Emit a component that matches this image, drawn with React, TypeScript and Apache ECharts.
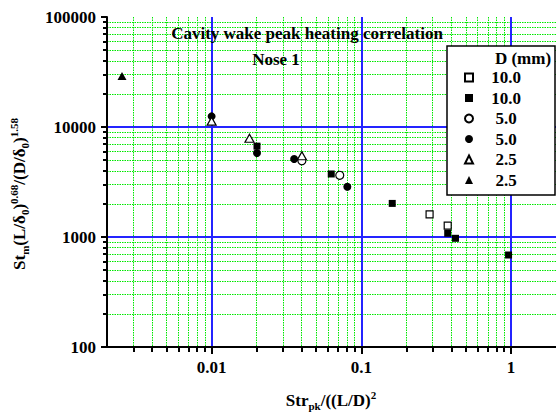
import React, { useEffect, useRef } from "react";
import * as echarts from "echarts";

// Tick values
const xMajorTicks = [0.01, 0.1, 1];
const xMinorTicks = [
  0.003, 0.004, 0.005, 0.006, 0.007, 0.008, 0.009,
  0.02, 0.03, 0.04, 0.05, 0.06, 0.07, 0.08, 0.09,
  0.2, 0.3, 0.4, 0.5, 0.6, 0.7, 0.8, 0.9,
];
const yMajorTicks = [100, 1000, 10000, 100000];
const yMinorTicks = [
  200, 300, 400, 500, 600, 700, 800, 900,
  2000, 3000, 4000, 5000, 6000, 7000, 8000, 9000,
  20000, 30000, 40000, 50000, 60000, 70000, 80000, 90000,
];

// Series (x = Str_pk/((L/D)^2, y = correlation)
const seriesNames = ["D10 open", "D10 filled", "D5 open", "D5 filled", "D2.5 open", "D2.5 filled"];
const legendLabels = ["10.0", "10.0", "5.0", "5.0", "2.5", "2.5"];
const d10Open = [[0.286, 1607], [0.378, 1268]];
const d10Filled = [[0.0201, 6700], [0.063, 3740], [0.161, 2020], [0.378, 1081], [0.426, 973], [0.964, 686]];
const d5Open = [[0.0401, 4940], [0.0718, 3640]];
const d5Filled = [[0.01, 12500], [0.0201, 5800], [0.0356, 5120], [0.0807, 2865]];
const d25Open = [[0.01, 11300], [0.0179, 7900], [0.0401, 5480]];
const d25Filled = [[0.00252, 29100]];

const FONT = "'Liberation Serif', 'Times New Roman', serif";

export default function App() {
  const ref = useRef<HTMLDivElement>(null);
  useEffect(() => {
    if (!ref.current) return;
    const chart = echarts.init(ref.current, undefined, { renderer: "svg" });
    const dataSets = [d10Open, d10Filled, d5Open, d5Filled, d25Open, d25Filled];
    const symbols = ["rect", "rect", "circle", "circle", "triangle", "triangle"];
    const sizes = [7, 7, 8, 8, [9, 8], [9, 8]];
    const filled = [false, true, false, true, false, true];
    const labelMap: Record<string, string> = {};
    seriesNames.forEach((n, i) => (labelMap[n] = legendLabels[i]));

    const fmt = (v: number) => String(Number(Number(v).toPrecision(6)));
    const baseText = { fontFamily: FONT, fontWeight: "bold", fontSize: 17, color: "#000" };
    const sub = { fontFamily: FONT, fontWeight: "bold", fontSize: 11, verticalAlign: "bottom", lineHeight: 11 };
    const sup = { fontFamily: FONT, fontWeight: "bold", fontSize: 11, verticalAlign: "top", lineHeight: 9 };
    const blue = { color: "#2424ff", width: 2, type: "solid", opacity: 1 };
    const green = { color: "#00e800", width: 1, type: [1.5, 1], opacity: 1 };

    const option: any = {
      animation: false,
      backgroundColor: "#fff",
      grid: { left: 107, top: 17, width: 450.5, height: 330 },
      xAxis: [
        {
          type: "log", logBase: 10, min: 0.002, max: 2, position: "bottom", z: 3,
          axisLine: { show: true, onZero: false, lineStyle: { color: "#000", width: 2 } },
          axisTick: { show: true, customValues: xMajorTicks, length: 7, lineStyle: { color: "#000", width: 2 } },
          axisLabel: { customValues: xMajorTicks, formatter: fmt, margin: 12, ...baseText },
          splitLine: { show: true, lineStyle: blue },
        },
        {
          type: "log", logBase: 10, min: 0.002, max: 2, position: "bottom", z: 1,
          axisLine: { show: false },
          axisTick: { show: true, customValues: xMinorTicks, length: 5, lineStyle: { color: "#000", width: 2 } },
          axisLabel: { show: false },
          splitLine: { show: true, lineStyle: green },
        },
      ],
      yAxis: [
        {
          type: "log", logBase: 10, min: 100, max: 100000, position: "left", z: 3,
          axisLine: { show: true, onZero: false, lineStyle: { color: "#000", width: 2 } },
          axisTick: { show: true, customValues: yMajorTicks, length: 6, lineStyle: { color: "#000", width: 2 } },
          axisLabel: { customValues: yMajorTicks, formatter: fmt, margin: 11, ...baseText },
          splitLine: { show: true, showMinLine: false, showMaxLine: false, lineStyle: blue },
        },
        {
          type: "log", logBase: 10, min: 100, max: 100000, position: "left", z: 1,
          axisLine: { show: false },
          axisTick: { show: true, customValues: yMinorTicks, length: 4, lineStyle: { color: "#000", width: 2 } },
          axisLabel: { show: false },
          splitLine: { show: true, lineStyle: green },
        },
      ],
      legend: {
        orient: "vertical",
        left: 464,
        top: 69,
        padding: 0,
        itemGap: 3.5,
        itemWidth: 8,
        itemHeight: 8,
        z: 5,
        data: seriesNames,
        formatter: (name: string) => `{c|${labelMap[name]}}`,
        textStyle: {
          rich: { c: { width: 56, align: "center", lineHeight: 18, ...baseText } },
        },
      },
      series: seriesNames.map((name, i) => ({
        name,
        type: "scatter",
        xAxisIndex: 0,
        yAxisIndex: 0,
        data: dataSets[i],
        symbol: symbols[i],
        symbolSize: sizes[i],
        z: 4 + i * 0.1,
        itemStyle: filled[i]
          ? { color: "#000", borderColor: "#000", borderWidth: 0, opacity: 1 }
          : { color: "#fff", borderColor: "#000", borderWidth: 1.2, opacity: 1 },
        emphasis: { disabled: true },
      })),
      graphic: [
        {
          type: "rect", z: 4.5,
          shape: { x: 447, y: 46, width: 108, height: 149 },
          style: { fill: "#fff", stroke: "#000", lineWidth: 1.5 },
        },
        {
          type: "text", z: 6, x: 523, y: 58,
          style: { text: "D (mm)", ...baseText, fill: "#000", align: "center", verticalAlign: "middle" },
        },
        {
          type: "text", z: 6, x: 307, y: 33,
          style: { text: "Cavity wake peak heating correlation", ...baseText, fill: "#000", align: "center", verticalAlign: "middle" },
        },
        {
          type: "text", z: 6, x: 276, y: 59,
          style: { text: "Nose 1", ...baseText, fill: "#000", align: "center", verticalAlign: "middle" },
        },
        {
          type: "text", z: 6, x: 331, y: 400,
          style: {
            text: "{b|Str}{sb|pk}{b|/((L/D)}{sp|2}",
            align: "center", verticalAlign: "middle",
            rich: { b: { ...baseText, lineHeight: 22 }, sb: sub, sp: sup },
          },
        },
        {
          type: "text", z: 6, x: 19, y: 194, rotation: Math.PI / 2,
          style: {
            text: "{b|St}{sb|m}{b|(L/δ}{sb|0}{b|)}{sp|0.68}{b|/(D/δ}{sb|0}{b|)}{sp|1.58}",
            align: "center", verticalAlign: "middle",
            rich: { b: { ...baseText, lineHeight: 22 }, sb: sub, sp: sup },
          },
        },
      ],
    };
    chart.setOption(option);
    return () => chart.dispose();
  }, []);
  return <div ref={ref} style={{ position: "fixed", left: 0, top: 0, width: 556, height: 418 }} />;
}
